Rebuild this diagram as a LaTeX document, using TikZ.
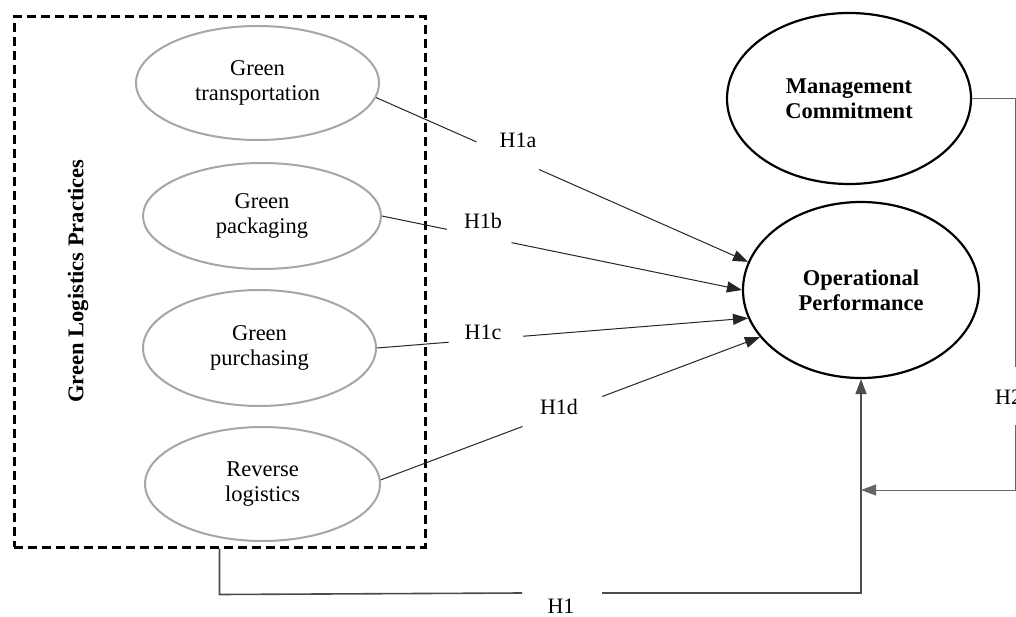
\documentclass[tikz,border=0pt]{standalone}
\usepackage{fontspec}
\setmainfont{Liberation Serif}
\usetikzlibrary{shapes.geometric,arrows.meta,calc}
\begin{document}
\begin{tikzpicture}[x=1pt,y=-1pt,
  lat/.style={ellipse, draw=black!35, line width=2pt, inner sep=0pt, align=center, font=\fontsize{22.5}{25}\selectfont},
  con/.style={ellipse, draw=black, line width=2.2pt, inner sep=0pt, align=center, font=\fontsize{22.5}{25}\selectfont\bfseries},
  link/.style={line width=1pt, draw=black!85},
  elbow/.style={line width=1.6pt, draw=black!70},
  thinlink/.style={line width=1pt, draw=black!60},
  arr/.style={-{Triangle[length=15pt,width=11pt]}},
  hlab/.style={font=\fontsize{22}{25}\selectfont, inner sep=0pt},
]
\useasboundingbox (0,0) rectangle (1016,617);
\clip (0,0) rectangle (1016,617);
\fill[white] (0,0) rectangle (1016,617);

% group box
\node[draw, dash pattern=on 9pt off 5pt, line width=3pt, minimum width=411pt, minimum height=530pt, inner sep=0pt] (glp) at (219.5,282) {};
\node[rotate=90, font=\fontsize{22.5}{25}\selectfont\bfseries, inner sep=0pt] (glpl) at (78,281) {Green Logistics Practices};

% latent constructs
\node[lat, minimum width=243pt, minimum height=114pt] (gt) at (257.5,83) {Green\\transportation};
\node[lat, minimum width=238pt, minimum height=106pt] (gp) at (262,216) {Green\\packaging};
\node[lat, minimum width=233pt, minimum height=116pt] (gpu) at (259.5,348) {Green\\purchasing};
\node[lat, minimum width=235pt, minimum height=114pt] (rl) at (262.5,484) {Reverse\\logistics};

\node[con, minimum width=244pt, minimum height=171pt] (mc) at (849,98.5) {Management\\Commitment};
\node[con, minimum width=236pt, minimum height=176pt] (op) at (861,290) {Operational\\Performance};

% H1a
\coordinate (a1) at (gt.-7); \coordinate (a2) at (op.166);
\draw[link] (a1) -- ($(a1)!0.27!(a2)$);
\draw[link, arr] ($(a1)!0.438!(a2)$) -- (a2);
\node[hlab] (l1a) at (518,140) {H1a};
% H1b
\coordinate (b1) at (gp.east); \coordinate (b2) at (op.west);
\draw[link] (b1) -- ($(b1)!0.18!(b2)$);
\draw[link, arr] ($(b1)!0.36!(b2)$) -- (b2);
\node[hlab] (l1b) at (483,221) {H1b};
% H1c
\coordinate (c1) at (gpu.east); \coordinate (c2) at (op.194);
\draw[link] (c1) -- ($(c1)!0.193!(c2)$);
\draw[link, arr] ($(c1)!0.394!(c2)$) -- (c2);
\node[hlab] (l1c) at (483,332) {H1c};
% H1d
\coordinate (d1) at (rl.2); \coordinate (d2) at (op.205);
\draw[link] (d1) -- ($(d1)!0.374!(d2)$);
\draw[link, arr] ($(d1)!0.584!(d2)$) -- (d2);
\node[hlab] (l1d) at (559,407) {H1d};

% H1
\coordinate (h1c) at ($(glp.south)+(0,46)$);
\coordinate (h1g1) at (522,593);
\coordinate (h1g2) at (602,593);
\draw[elbow] (glp.south) -- (h1c) -- (h1g1);
\draw[elbow, arr] (h1g2) -| (op.south);
\node[hlab] (l1) at (561,606) {H1};

% H2
\coordinate (h2a) at (1015,98.5);
\coordinate (h2b) at (1015,367);
\coordinate (h2c) at (1015,425);
\coordinate (h2d) at (1015,490);
\coordinate (h2e) at (861,490);
\draw[thinlink] (mc.east) -- (h2a) -- (h2b);
\draw[thinlink, arr] (h2c) -- (h2d) -- (h2e);
\node[hlab, anchor=west] (l2) at (995,397) {H2};
\end{tikzpicture}
\end{document}
